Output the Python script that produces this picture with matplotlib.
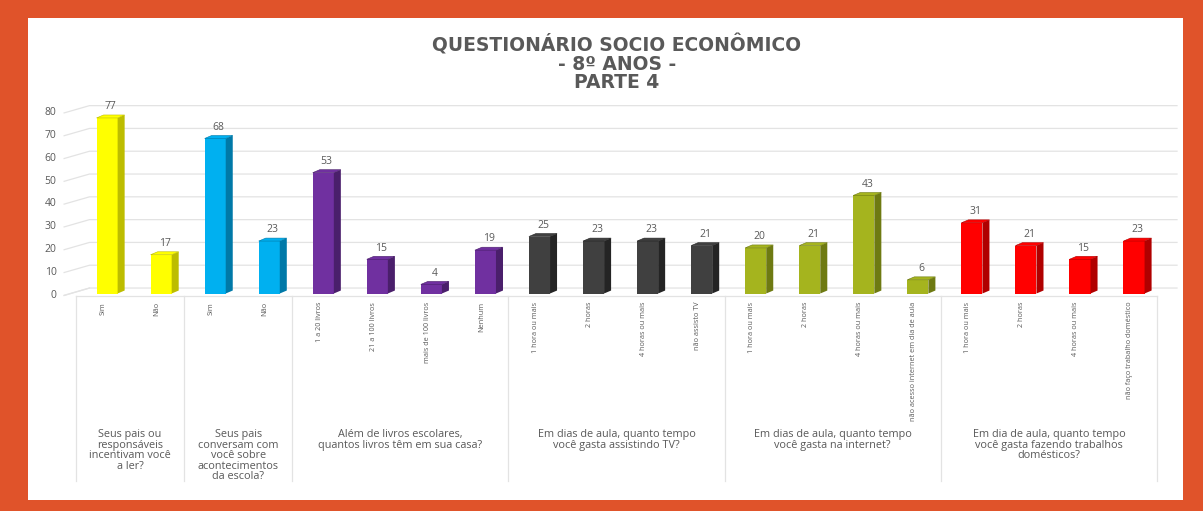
import numpy as np
import matplotlib.pyplot as plt
from matplotlib.patches import Polygon, Rectangle
from matplotlib import transforms

plt.rcParams['font.family'] = ['Open Sans', 'DejaVu Sans']

categories = ['Sim', 'Não', 'Sim', 'Não',
              '1 a 20 livros', '21 a 100 livros', 'mais de 100 livros', 'Nenhum',
              '1 hora ou mais', '2 horas', '4 horas ou mais', 'não assisto TV',
              '1 hora ou mais', '2 horas', '4 horas ou mais', 'não acesso internet em dia de aula',
              '1 hora ou mais', '2 horas', '4 horas ou mais', 'não faço trabalho doméstico']
values = [77, 17, 68, 23, 53, 15, 4, 19, 25, 23, 23, 21, 20, 21, 43, 6, 31, 21, 15, 23]

questions = ['Seus pais ou\nresponsáveis\nincentivam você\na ler?',
             'Seus pais\nconversam com\nvocê sobre\nacontecimentos\nda escola?',
             'Além de livros escolares,\nquantos livros têm em sua casa?',
             'Em dias de aula, quanto tempo\nvocê gasta assistindo TV?',
             'Em dias de aula, quanto tempo\nvocê gasta na internet?',
             'Em dia de aula, quanto tempo\nvocê gasta fazendo trabalhos\ndomésticos?']
group_sizes = [2, 2, 4, 4, 4, 4]

front_colors = ['#FFFF00', '#00B0F0', '#7030A0', '#404040', '#A5B41E', '#FF0000']
side_colors = ['#BDBD00', '#0079A8', '#4A1F6B', '#242424', '#6E7A12', '#B00000']

orange = '#E0532A'
text_gray = '#595959'
line_gray = '#E3E3E3'

W, H = 1203, 511
fig = plt.figure(figsize=(W / 100, H / 100), dpi=100, facecolor=orange)
fig.patches.append(Rectangle((28 / W, 1 - 500 / H), (1183 - 28) / W, (500 - 18) / H,
                             transform=fig.transFigure, facecolor='white',
                             edgecolor='none', zorder=-1))

ax = fig.add_axes([76 / W, 1 - 293.5 / H, 1081 / W, 80 * 2.28 / H])
ax.set_xlim(-0.5, 19.5)
ax.set_ylim(0, 80)
ax.patch.set_alpha(0)
for s in ax.spines.values():
    s.set_visible(False)

# colour per bar from its question group
bar_front, bar_side = [], []
for g, n in enumerate(group_sizes):
    bar_front += [front_colors[g]] * n
    bar_side += [side_colors[g]] * n

x = np.arange(len(values))
shift, w, dx, dy = 0.075, 0.39, 0.13, 1.3

# back wall gridlines with a short perspective run on the left
wall_dx, wall_dy = 0.25, 2.4
for v in range(0, 81, 10):
    ax.plot([-0.72, -0.5 + wall_dx, 19.87], [v - 0.8, v + wall_dy, v + wall_dy],
            color=line_gray, lw=0.9, clip_on=False, zorder=1)

ax.bar(x + shift, values, width=w, color=bar_front, zorder=3, linewidth=0)
for xi, v, sc, fc in zip(x, values, bar_side, bar_front):
    r = xi + shift + w / 2
    l = xi + shift - w / 2
    ax.add_patch(Polygon([(r, 0), (r + dx, dy), (r + dx, v + dy), (r, v)],
                         closed=True, facecolor=sc, edgecolor='none', zorder=3))
    ax.add_patch(Polygon([(l, v), (l + dx, v + dy), (r + dx, v + dy), (r, v)],
                         closed=True, facecolor=fc, edgecolor=sc, lw=0.4, zorder=4))
    ax.annotate(str(v), (xi + shift + dx / 2, v + dy), xytext=(0, 2),
                textcoords='offset points', ha='center', va='bottom',
                fontsize=7.5, color=text_gray, zorder=5)

ax.set_yticks(range(0, 81, 10))
ax.set_yticklabels([str(v) for v in range(0, 81, 10)], fontsize=7.5, color=text_gray)
ax.tick_params(axis='y', length=0, pad=14)
ax.set_xticks(x)
ax.set_xticklabels(categories, rotation=90, fontsize=5.2, color=text_gray)
ax.tick_params(axis='x', length=0, pad=6)

# category box below the floor
bt = transforms.blended_transform_factory(ax.transData, fig.transFigure)
y_top, y_bot = 1 - 295.5 / H, 1 - 481 / H
ax.plot([-0.5, 19.5], [y_top, y_top], transform=bt, color=line_gray, lw=0.9, clip_on=False)
ax.plot([-0.72, -0.5 + wall_dx], [y_top, 1 - 288 / H], transform=bt, color=line_gray,
        lw=0.9, clip_on=False)
edges = np.concatenate([[0], np.cumsum(group_sizes)]) - 0.5
for e in edges:
    ax.plot([e, e], [y_top, y_bot], transform=bt, color=line_gray, lw=0.9, clip_on=False)
for q, a, b in zip(questions, edges[:-1], edges[1:]):
    ax.text((a + b) / 2, 1 - 429 / H, q, transform=bt, ha='center', va='top',
            fontsize=7.8, color=text_gray, linespacing=0.95)

fig.text(617 / W, 1 - 63 / H, 'QUESTIONÁRIO SOCIO ECONÔMICO\n- 8º ANOS -\nPARTE 4',
         ha='center', va='center', fontsize=13.5, fontweight='bold', family='DejaVu Sans',
         color=text_gray, linespacing=0.95)

fig.savefig('out.png', dpi=100, facecolor=orange)
